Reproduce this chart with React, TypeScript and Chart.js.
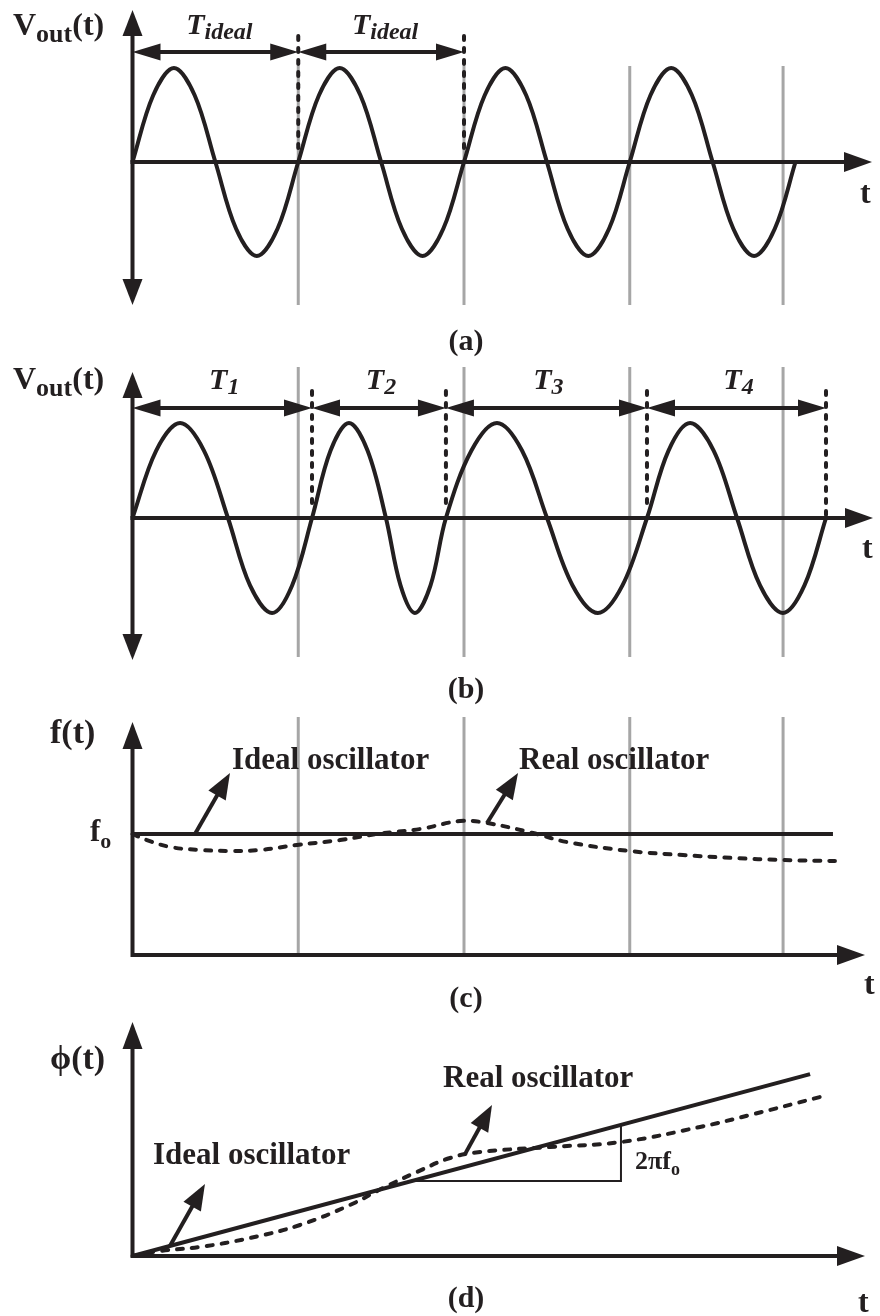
import React, { useEffect, useRef } from "react";
import { Chart, registerables } from "chart.js";

Chart.register(...registerables);

const W = 880;
const H = 1316;
const INK = "#231f20";
const GRID = "#a6a6a6";
const SERIF = '"Liberation Serif", "Times New Roman", Times, serif';

// Time runs left to right, one unit = one ideal period
const T0_PX = 132.5;
const PERIOD_PX = 165.75;

// (a) ideal oscillator output
const A_T = [0, 0.125, 0.25, 0.375, 0.5, 0.625, 0.75, 0.875, 1, 1.125, 1.25, 1.375, 1.5, 1.625, 1.75, 1.875, 2,
  2.125, 2.25, 2.375, 2.5, 2.625, 2.75, 2.875, 3, 3.125, 3.25, 3.375, 3.5, 3.625, 3.75, 3.875, 4];
const A_V = [0, 0.71, 1, 0.71, 0, -0.71, -1, -0.71, 0, 0.71, 1, 0.71, 0, -0.71, -1, -0.71, 0,
  0.71, 1, 0.71, 0, -0.71, -1, -0.71, 0, 0.71, 1, 0.71, 0, -0.71, -1, -0.71, 0];
const A_MARKS = [0, 1, 2];
const A_LABELS = ["ideal", "ideal"];

// (b) real oscillator output, periods wander
const B_T = [0, 0.143, 0.287, 0.431, 0.576, 0.709, 0.842, 0.963, 1.083, 1.195, 1.306, 1.418, 1.529, 1.617, 1.704,
  1.798, 1.891, 2.045, 2.199, 2.35, 2.501, 2.655, 2.808, 2.956, 3.104, 3.234, 3.364, 3.506, 3.647, 3.786, 3.924,
  4.054, 4.184];
const B_V = [0, 0.71, 1, 0.71, 0, -0.71, -1, -0.71, 0, 0.71, 1, 0.71, 0, -0.71, -1, -0.71, 0,
  0.71, 1, 0.71, 0, -0.71, -1, -0.71, 0, 0.71, 1, 0.71, 0, -0.71, -1, -0.71, 0];
const B_MARKS = [0, 1.083, 1.891, 3.104, 4.184];
const B_LABELS = ["1", "2", "3", "4"];

// ideal period boundaries shown as grey guides
const GRID_T = [1, 2, 3, 3.925];

// (c) instantaneous frequency, f0 = 1
const C_IDEAL_T = [0, 4.226];
const C_IDEAL_F = [1, 1];
const C_REAL_T = [0, 0.087, 0.226, 0.407, 0.588, 0.769, 0.992, 1.252, 1.475, 1.735, 1.976, 2.139, 2.416, 2.621,
  2.995, 3.321, 3.623, 3.925, 4.238];
const C_REAL_F = [1.0, 0.95, 0.893, 0.868, 0.86, 0.868, 0.909, 0.95, 1.0, 1.041, 1.107, 1.091, 1.008, 0.934,
  0.86, 0.826, 0.802, 0.785, 0.777];

// (d) accumulated phase, in cycles
const D_IDEAL_T = [0, 4.088];
const D_IDEAL_P = [0, 4.088];
const D_REAL_T = [0, 0.166, 0.407, 0.709, 1.011, 1.312, 1.511, 1.716, 1.916, 2.097, 2.519, 2.947, 3.424, 3.725, 4.148];
const D_REAL_P = [0, 0.112, 0.202, 0.405, 0.697, 1.146, 1.528, 1.888, 2.203, 2.338, 2.45, 2.562, 2.9, 3.169, 3.574];
const D_SLOPE_T = [1.685, 2.947, 2.947];
const D_SLOPE_P = [1.685, 1.685, 2.947];

// where the call-out arrows leave their curves
const C_IDEAL_NOTE = [0.377, 1];
const C_REAL_NOTE = [2.139, 1.091];
const D_IDEAL_NOTE = [0.226, 0.226];
const D_REAL_NOTE = [2.006, 2.29];

const F_LABEL = `bold 32px ${SERIF}`;
const F_LABEL_L = `bold 34px ${SERIF}`;
const F_SUB = `bold 26px ${SERIF}`;
const F_T = `italic bold 30px ${SERIF}`;
const F_TSUB = `italic bold 24px ${SERIF}`;
const F_NOTE = `bold 31px ${SERIF}`;
const F_CAP = `bold 30px ${SERIF}`;

const pts = (xs: number[], ys: number[]) => xs.map((x, i) => ({ x, y: ys[i] }));
const yRange = (zeroPx: number, unitPx: number) => ({ min: -(H - zeroPx) / unitPx, max: zeroPx / unitPx });

function seg(ctx: CanvasRenderingContext2D, x1: number, y1: number, x2: number, y2: number) {
  ctx.beginPath();
  ctx.moveTo(x1, y1);
  ctx.lineTo(x2, y2);
  ctx.stroke();
}

function head(ctx: CanvasRenderingContext2D, x1: number, y1: number, x2: number, y2: number, len: number, half: number) {
  const a = Math.atan2(y2 - y1, x2 - x1);
  const bx = x2 - len * Math.cos(a);
  const by = y2 - len * Math.sin(a);
  ctx.beginPath();
  ctx.moveTo(x2, y2);
  ctx.lineTo(bx + half * Math.sin(a), by - half * Math.cos(a));
  ctx.lineTo(bx - half * Math.sin(a), by + half * Math.cos(a));
  ctx.closePath();
  ctx.fill();
}

function arrow(ctx: CanvasRenderingContext2D, x1: number, y1: number, x2: number, y2: number,
  len: number, half: number, both = false) {
  const a = Math.atan2(y2 - y1, x2 - x1);
  const sx = both ? x1 + len * 0.6 * Math.cos(a) : x1;
  const sy = both ? y1 + len * 0.6 * Math.sin(a) : y1;
  seg(ctx, sx, sy, x2 - len * 0.6 * Math.cos(a), y2 - len * 0.6 * Math.sin(a));
  head(ctx, x1, y1, x2, y2, len, half);
  if (both) head(ctx, x2, y2, x1, y1, len, half);
}

type Run = [string, string, number];
function runs(ctx: CanvasRenderingContext2D, parts: Run[], x: number, y: number, center = false) {
  let w = 0;
  for (const [s, f] of parts) {
    ctx.font = f;
    w += ctx.measureText(s).width;
  }
  let cx = center ? x - w / 2 : x;
  ctx.textAlign = "left";
  ctx.textBaseline = "alphabetic";
  for (const [s, f, dy] of parts) {
    ctx.font = f;
    ctx.fillText(s, cx, y + dy);
    cx += ctx.measureText(s).width;
  }
}

const diagram = {
  id: "diagram",
  beforeDatasetsDraw(chart: any) {
    const ctx: CanvasRenderingContext2D = chart.ctx;
    const X = (t: number) => chart.scales.x.getPixelForValue(t);
    const { ya, yb, yc, yd } = chart.scales;
    const x0 = X(0);
    ctx.save();

    // grey guides at ideal period boundaries
    ctx.strokeStyle = GRID;
    ctx.lineWidth = 3;
    for (const [top, bottom] of [[66, 305], [367, 657], [717, yc.getPixelForValue(0)]]) {
      for (const t of GRID_T) seg(ctx, X(t), top, X(t), bottom);
    }

    // dashed period boundaries
    ctx.strokeStyle = INK;
    ctx.lineWidth = 4;
    ctx.lineCap = "round";
    ctx.setLineDash([4, 8]);
    for (const t of A_MARKS.slice(1)) seg(ctx, X(t), 36, X(t), 153);
    B_MARKS.slice(1).forEach((t, i) => seg(ctx, X(t), 391, X(t), i === 3 ? 516 : 506));
    ctx.setLineDash([]);
    ctx.lineCap = "butt";

    // axes
    ctx.fillStyle = INK;
    ctx.strokeStyle = INK;
    ctx.lineWidth = 4;
    arrow(ctx, x0, 305, x0, 10, 26, 10, true);
    arrow(ctx, x0 - 2, ya.getPixelForValue(0), 872, ya.getPixelForValue(0), 28, 10);
    arrow(ctx, x0, 660, x0, 372, 26, 10, true);
    arrow(ctx, x0 - 2, yb.getPixelForValue(0), 873, yb.getPixelForValue(0), 28, 10);

    for (const [ys, top] of [[yc, 722], [yd, 1022]] as [any, number][]) {
      const y0 = ys.getPixelForValue(0);
      ctx.lineJoin = "miter";
      ctx.beginPath();
      ctx.moveTo(x0, top + 16);
      ctx.lineTo(x0, y0);
      ctx.lineTo(865 - 16, y0);
      ctx.stroke();
      head(ctx, x0, y0, x0, top, 27, 10);
      head(ctx, x0, y0, 865, y0, 28, 10);
    }
    ctx.restore();
  },
  afterDatasetsDraw(chart: any) {
    const ctx: CanvasRenderingContext2D = chart.ctx;
    const X = (t: number) => chart.scales.x.getPixelForValue(t);
    const { yc, yd } = chart.scales;
    ctx.save();
    ctx.fillStyle = INK;
    ctx.strokeStyle = INK;
    ctx.lineWidth = 4;

    // period dimension arrows
    for (let i = 0; i < A_LABELS.length; i++) {
      const l = X(A_MARKS[i]);
      const r = X(A_MARKS[i + 1]);
      arrow(ctx, l, 52, r, 52, 28, 8.5, true);
      runs(ctx, [["T", F_T, 0], [A_LABELS[i], F_TSUB, 5]], (l + r) / 2 + 4, 34, true);
    }
    for (let i = 0; i < B_LABELS.length; i++) {
      const l = X(B_MARKS[i]);
      const r = X(B_MARKS[i + 1]);
      arrow(ctx, l, 408, r, 408, 28, 8.5, true);
      runs(ctx, [["T", F_T, 0], [B_LABELS[i], F_TSUB, 5]], (l + r) / 2 + 2, 389, true);
    }

    // call-out arrows
    const notes: [number, number, any, number, number][] = [
      [C_IDEAL_NOTE[0], C_IDEAL_NOTE[1], yc, 35, -61],
      [C_REAL_NOTE[0], C_REAL_NOTE[1], yc, 31, -50],
      [D_IDEAL_NOTE[0], D_IDEAL_NOTE[1], yd, 35, -62],
      [D_REAL_NOTE[0], D_REAL_NOTE[1], yd, 27, -49],
    ];
    for (const [t, v, ys, dx, dy] of notes) {
      const sx = X(t);
      const sy = ys.getPixelForValue(v);
      arrow(ctx, sx, sy, sx + dx, sy + dy, 26, 10);
    }

    // axis names
    runs(ctx, [["V", F_LABEL, 0], ["out", F_SUB, 7], ["(t)", F_LABEL, 0]], 13, 35);
    runs(ctx, [["V", F_LABEL, 0], ["out", F_SUB, 7], ["(t)", F_LABEL, 0]], 13, 389);
    runs(ctx, [["f(t)", F_LABEL_L, 0]], 50, 743);
    runs(ctx, [["f", `bold 31px ${SERIF}`, 0], ["o", `bold 22px ${SERIF}`, 7]], 90, 841);
    runs(ctx, [["\u03d5(t)", F_LABEL_L, 0]], 50, 1069);
    runs(ctx, [["2\u03c0f", `bold 26px ${SERIF}`, 0], ["o", `bold 18px ${SERIF}`, 6]], 635, 1169);
    for (const [x, y] of [[860, 203], [862, 558], [864, 994], [858, 1312]]) runs(ctx, [["t", F_LABEL, 0]], x, y);

    // curve notes
    runs(ctx, [["Ideal oscillator", F_NOTE, 0]], 232, 769);
    runs(ctx, [["Real oscillator", F_NOTE, 0]], 519, 769);
    runs(ctx, [["Ideal oscillator", F_NOTE, 0]], 153, 1164);
    runs(ctx, [["Real oscillator", F_NOTE, 0]], 443, 1087);

    // sub-figure captions
    ctx.font = F_CAP;
    ctx.textAlign = "center";
    ctx.textBaseline = "middle";
    [["(a)", 342], ["(b)", 690], ["(c)", 999], ["(d)", 1299]].forEach(([s, y]) =>
      ctx.fillText(s as string, 466, y as number));
    ctx.restore();
  },
};

const solid = { borderColor: INK, borderWidth: 4, pointRadius: 0, fill: false, borderJoinStyle: "round" as const };
const dashed = { ...solid, borderDash: [6, 9], borderCapStyle: "round" as const };

export default function App() {
  const ref = useRef<HTMLCanvasElement>(null);
  useEffect(() => {
    const chart = new Chart(ref.current!, {
      type: "line",
      data: {
        datasets: [
          { ...solid, data: pts(A_T, A_V), yAxisID: "ya", tension: 0.35 },
          { ...solid, data: pts(B_T, B_V), yAxisID: "yb", tension: 0.35 },
          { ...solid, data: pts(C_IDEAL_T, C_IDEAL_F), yAxisID: "yc", tension: 0 },
          { ...dashed, data: pts(C_REAL_T, C_REAL_F), yAxisID: "yc", tension: 0.4 },
          { ...solid, data: pts(D_IDEAL_T, D_IDEAL_P), yAxisID: "yd", tension: 0 },
          { ...dashed, data: pts(D_REAL_T, D_REAL_P), yAxisID: "yd", tension: 0.4 },
          { ...solid, borderWidth: 2, borderJoinStyle: "miter", data: pts(D_SLOPE_T, D_SLOPE_P), yAxisID: "yd", tension: 0 },
        ] as any,
      },
      options: {
        responsive: false,
        devicePixelRatio: 1,
        animation: false,
        events: [],
        layout: { padding: 0 },
        plugins: { legend: { display: false }, tooltip: { enabled: false } },
        scales: {
          x: { type: "linear", display: false, min: -T0_PX / PERIOD_PX, max: (W - T0_PX) / PERIOD_PX },
          ya: { type: "linear", display: false, ...yRange(162, 94) },
          yb: { type: "linear", display: false, ...yRange(518, 95) },
          yc: { type: "linear", display: false, ...yRange(955, 121) },
          yd: { type: "linear", display: false, ...yRange(1256, 44.49) },
        },
      },
      plugins: [diagram],
    });
    return () => chart.destroy();
  }, []);
  return (
    <div style={{ position: "absolute", left: 0, top: 0, width: W, height: H, background: "#fff" }}>
      <canvas ref={ref} width={W} height={H} style={{ display: "block", width: W, height: H }} />
    </div>
  );
}
